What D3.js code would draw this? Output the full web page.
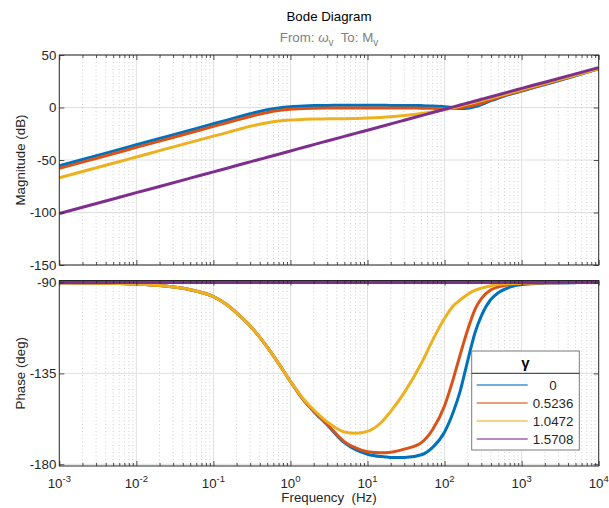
<!DOCTYPE html>
<html>
<head>
<meta charset="utf-8">
<script src="https://cdn.jsdelivr.net/npm/d3@7"></script>
<style>
  body { margin: 0; background: #fff; }
  svg { display: block; }
  text { font-family: "Liberation Sans", Arial, Helvetica, sans-serif; }
</style>
</head>
<body>
<svg id="chart" width="609" height="508"></svg>
<script>
// Frequency samples (Hz)
const freqHz = [0.001, 0.002, 0.005, 0.01, 0.02, 0.05, 0.1, 0.15, 0.2, 0.3, 0.5, 0.7,
  1, 1.5, 2, 3, 5, 7, 10, 15, 20, 30, 50, 70, 100, 130, 160, 200, 250, 300, 400, 500,
  700, 1000, 2000, 5000, 10000];

// Legend entries (gamma values)
const gammaLabels = ["0", "0.5236", "1.0472", "1.5708"];

// Magnitude (dB) for each gamma
const magGamma0 = [-55.5, -49.5, -41.5, -35.5, -29.5, -21.6, -15.5, -12.0, -9.4, -6.0, -2.2, -0.4,
  0.8, 1.5, 1.8, 2.0, 2.1, 2.1, 2.1, 2.1, 2.0, 2.0, 1.8, 1.5, 0.8, -0.2, -1.0, -0.8, 0.8, 2.8,
  6.5, 9.0, 12.5, 15.6, 21.9, 30.3, 36.8];
const magGamma1 = [-58.0, -52.0, -44.0, -38.0, -32.0, -24.1, -18.0, -14.5, -11.9, -8.5, -4.7, -2.9,
  -1.7, -1.0, -0.7, -0.5, -0.4, -0.4, -0.4, -0.4, -0.5, -0.5, -0.6, -0.8, -1.0, -0.9, -0.3, 0.9,
  2.5, 4.0, 7.2, 9.6, 13.0, 16.0, 22.3, 30.6, 37.0];
const magGamma2 = [-67.0, -61.0, -53.1, -47.1, -41.1, -33.2, -27.3, -23.9, -21.3, -17.9, -14.5, -12.9,
  -11.9, -11.3, -11.0, -10.8, -10.6, -10.4, -10.1, -9.5, -8.9, -7.7, -5.8, -4.2, -2.2, -0.2, 1.5,
  3.3, 5.1, 6.6, 9.1, 11.0, 13.9, 17.0, 23.0, 31.0, 37.1];
const magGamma3 = [-101.0, -95.0, -87.1, -81.1, -75.2, -67.3, -61.3, -57.8, -55.3, -51.8, -47.4, -44.5,
  -41.4, -37.9, -35.4, -31.9, -27.5, -24.6, -21.6, -18.1, -15.6, -12.1, -7.7, -4.8, -1.7, 0.6, 2.4,
  4.3, 6.2, 7.8, 10.3, 12.2, 15.1, 18.2, 24.1, 32.0, 38.0];

// Phase (deg) for each gamma
const phaseGamma0 = [-90.1, -90.2, -90.4, -90.8, -91.5, -93.6, -97.0, -101.0, -105.0, -111.5, -122.0, -130.0,
  -139.0, -148.5, -153.8, -160.5, -169.3, -172.8, -175.0, -176.2, -176.6, -176.7, -175.3, -171.6,
  -164.0, -154.0, -143.5, -128.5, -114.5, -106.5, -98.3, -95.0, -92.3, -91.0, -90.3, -90.05, -90.0];
const phaseGamma1 = [-90.1, -90.2, -90.4, -90.8, -91.5, -93.6, -97.0, -101.0, -105.0, -111.5, -122.0, -130.0,
  -139.0, -148.5, -153.7, -160.3, -168.8, -171.9, -173.8, -174.3, -174.0, -172.5, -169.3, -162.8,
  -151.0, -137.5, -125.5, -113.2, -103.0, -98.0, -93.6, -92.1, -91.0, -90.5, -90.15, -90.03, -90.0];
const phaseGamma2 = [-90.1, -90.2, -90.4, -90.8, -91.5, -93.6, -97.0, -101.0, -105.0, -111.5, -122.0, -130.0,
  -139.0, -148.0, -153.0, -159.0, -164.0, -164.6, -163.7, -159.3, -153.8, -144.5, -130.0, -118.5,
  -107.7, -101.5, -98.6, -95.8, -93.8, -92.8, -91.6, -90.9, -90.5, -90.3, -90.1, -90.02, -90.0];
const phaseGamma3 = [-90, -90, -90, -90, -90, -90, -90, -90, -90, -90, -90, -90,
  -90, -90, -90, -90, -90, -90, -90, -90, -90, -90, -90, -90, -90, -90, -90, -90,
  -90, -90, -90, -90, -90, -90, -90, -90, -90];

// Tick values
const freqTicks = [1e-3, 1e-2, 1e-1, 1e0, 1e1, 1e2, 1e3, 1e4];
const freqTickExps = ["-3", "-2", "-1", "0", "1", "2", "3", "4"];
const magTicks = [50, 0, -50, -100, -150];
const phaseTicks = [-90, -135, -180];

// ---- layout & style ----
const colors = ["#0072BD", "#D95319", "#EDB120", "#7E2F8E"];
const axisColor = "#262626";
const left = 59.3, right = 598.7;
const magTop = 55, magBottom = 265;
const phTop = 280.5, phBottom = 466;

const svg = d3.select("#chart");

const x = d3.scaleLog().domain([1e-3, 1e4]).range([left, right]);
const yMag = d3.scaleLinear().domain([-150, 50]).range([magBottom, magTop]);
const yPh = d3.scaleLinear().domain([-180.85, -89.0]).range([phBottom, phTop]);

// minor tick positions (2..9 within each decade)
const minorTicks = x.ticks().filter(v => {
  const m = v / Math.pow(10, Math.floor(Math.log10(v) + 1e-9));
  return Math.abs(m - 1) > 1e-6;
});

function drawPanel(id, y, top, bottom, yTicks, series) {
  const g = svg.append("g");
  const clipId = "clip-" + id;
  svg.append("clipPath").attr("id", clipId)
    .append("rect").attr("x", left).attr("y", top)
    .attr("width", right - left).attr("height", bottom - top);

  // grid
  const grid = g.append("g");
  grid.selectAll("line.minor").data(minorTicks).join("line")
    .attr("x1", d => x(d)).attr("x2", d => x(d))
    .attr("y1", top).attr("y2", bottom)
    .attr("stroke", "#c4c4c4").attr("stroke-width", 0.8)
    .attr("stroke-dasharray", "1,2.5");
  grid.selectAll("line.vmajor").data(freqTicks.slice(1, -1)).join("line")
    .attr("x1", d => x(d)).attr("x2", d => x(d))
    .attr("y1", top).attr("y2", bottom)
    .attr("stroke", "#dfdfdf").attr("stroke-width", 1);
  grid.selectAll("line.hmajor").data(yTicks).join("line")
    .attr("x1", left).attr("x2", right)
    .attr("y1", d => y(d)).attr("y2", d => y(d))
    .attr("stroke", "#dfdfdf").attr("stroke-width", 1);

  // curves
  const lines = g.append("g").attr("clip-path", `url(#${clipId})`);
  series.forEach((vals, i) => {
    const line = d3.line()
      .x((d, k) => x(freqHz[k]))
      .y(d => y(d))
      .curve(d3.curveMonotoneX);
    lines.append("path").datum(vals)
      .attr("d", line)
      .attr("fill", "none")
      .attr("stroke", colors[i])
      .attr("stroke-width", 3)
      .attr("stroke-linejoin", "round");
  });

  // axes (ticks point inward)
  const axes = g.append("g");
  const yl = axes.append("g").attr("transform", `translate(${left},0)`)
    .call(d3.axisLeft(y).tickValues(yTicks).tickSize(-5).tickPadding(3)
      .tickFormat(d => String(d)));
  const yr = axes.append("g").attr("transform", `translate(${right},0)`)
    .call(d3.axisRight(y).tickValues(yTicks).tickSize(-5).tickFormat(""));
  const xb = axes.append("g").attr("transform", `translate(0,${bottom})`)
    .call(d3.axisBottom(x).tickValues(freqTicks).tickSize(-5).tickFormat(""));
  const xbm = axes.append("g").attr("transform", `translate(0,${bottom})`)
    .call(d3.axisBottom(x).tickValues(minorTicks).tickSize(-3).tickFormat(""));
  const xt = axes.append("g").attr("transform", `translate(0,${top})`)
    .call(d3.axisTop(x).tickValues(freqTicks).tickSize(-5).tickFormat(""));
  const xtm = axes.append("g").attr("transform", `translate(0,${top})`)
    .call(d3.axisTop(x).tickValues(minorTicks).tickSize(-3).tickFormat(""));
  [yl, yr, xb, xbm, xt, xtm].forEach(a => {
    a.select(".domain").remove();
    a.selectAll(".tick line").attr("stroke", axisColor).attr("stroke-width", 0.8);
  });
  yl.selectAll(".tick text").attr("fill", axisColor).attr("font-size", 13.3)
    .attr("font-family", '"Liberation Sans", Arial, sans-serif');

  // box
  axes.append("rect").attr("x", left).attr("y", top)
    .attr("width", right - left).attr("height", bottom - top)
    .attr("fill", "none").attr("stroke", axisColor).attr("stroke-width", 1);
  return g;
}

drawPanel("mag", yMag, magTop, magBottom, magTicks,
  [magGamma0, magGamma1, magGamma2, magGamma3]);
drawPanel("phase", yPh, phTop, phBottom, phaseTicks,
  [phaseGamma0, phaseGamma1, phaseGamma2, phaseGamma3]);

// frequency tick labels 10^n
const xl = svg.append("g");
freqTicks.forEach((f, i) => {
  const t = xl.append("text")
    .attr("x", x(f)).attr("y", 488)
    .attr("text-anchor", "middle")
    .attr("fill", axisColor).attr("font-size", 13.3);
  t.append("tspan").text("10");
  t.append("tspan").attr("dy", -6).attr("font-size", 9.5).text(freqTickExps[i]);
});

// axis labels
svg.append("text").attr("x", (left + right) / 2).attr("y", 502)
  .attr("text-anchor", "middle").attr("fill", axisColor).attr("font-size", 13.3)
  .attr("xml:space", "preserve").text("Frequency  (Hz)");
svg.append("text")
  .attr("transform", `translate(25,${(magTop + magBottom) / 2}) rotate(-90)`)
  .attr("text-anchor", "middle").attr("fill", axisColor).attr("font-size", 13.3)
  .text("Magnitude (dB)");
svg.append("text")
  .attr("transform", `translate(25,${(phTop + phBottom) / 2}) rotate(-90)`)
  .attr("text-anchor", "middle").attr("fill", axisColor).attr("font-size", 13.3)
  .text("Phase (deg)");

// titles
svg.append("text").attr("x", (left + right) / 2).attr("y", 21)
  .attr("text-anchor", "middle").attr("fill", "#000").attr("font-size", 13.3)
  .text("Bode Diagram");
const sub = svg.append("text").attr("x", (left + right) / 2).attr("y", 42)
  .attr("text-anchor", "middle").attr("fill", "#808080").attr("font-size", 13.3)
  .attr("xml:space", "preserve");
sub.append("tspan").text("From: ");
sub.append("tspan").attr("font-style", "italic").text("ω");
sub.append("tspan").attr("dy", 4).attr("font-size", 10).text("v");
sub.append("tspan").attr("dy", -4).text("  To: M");
sub.append("tspan").attr("dy", 4).attr("font-size", 10).text("v");

// legend
const lg = svg.append("g");
const lgX = 471.7, lgY = 351, lgW = 107.6, lgH = 99;
lg.append("rect").attr("x", lgX).attr("y", lgY).attr("width", lgW).attr("height", lgH)
  .attr("fill", "#fff").attr("stroke", "#7a7a7a").attr("stroke-width", 1);
lg.append("text").attr("x", lgX + lgW / 2).attr("y", 368)
  .attr("text-anchor", "middle").attr("font-weight", "bold").attr("font-size", 15)
  .attr("font-family", '"Liberation Serif", "Times New Roman", serif')
  .attr("fill", "#000").text("γ");
lg.append("line").attr("x1", lgX).attr("x2", lgX + lgW).attr("y1", 373.3).attr("y2", 373.3)
  .attr("stroke", axisColor).attr("stroke-width", 1);
gammaLabels.forEach((lab, i) => {
  const cy = 385 + i * 18;
  lg.append("line").attr("x1", 476.7).attr("x2", 527.7).attr("y1", cy).attr("y2", cy)
    .attr("stroke", colors[i]).attr("stroke-width", 1.5).attr("stroke-opacity", 0.75);
  lg.append("text").attr("x", 553).attr("y", cy + 4.7)
    .attr("text-anchor", "middle").attr("font-size", 13.3).attr("fill", axisColor)
    .text(lab);
});
</script>
</body>
</html>
